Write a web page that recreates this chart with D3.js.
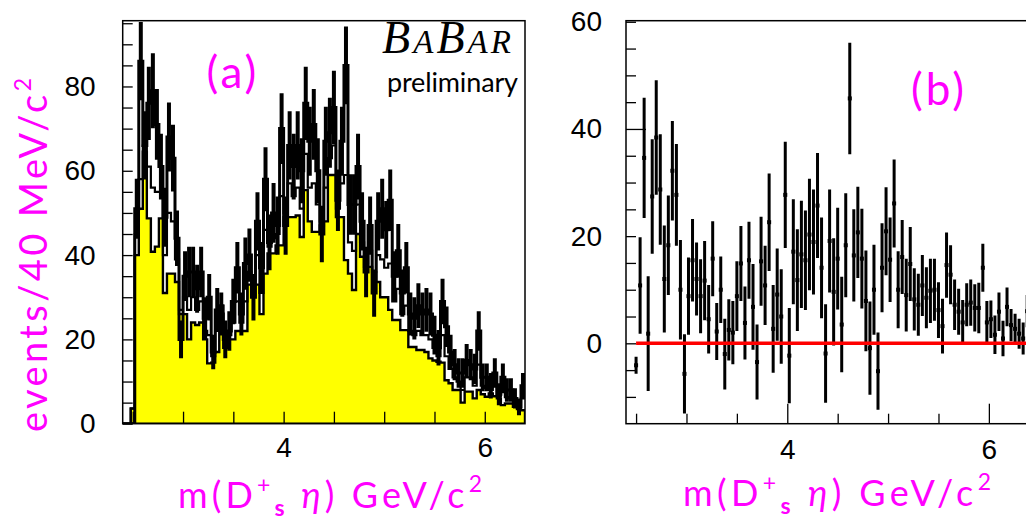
<!DOCTYPE html>
<html>
<head>
<meta charset="utf-8">
<script src="https://cdn.jsdelivr.net/npm/d3@7"></script>
<style>
  body { margin: 0; background: #fff; }
  svg { display: block; }
</style>
</head>
<body>
<svg id="chart" width="1026" height="523"></svg>
<script>
// binning: 100 bins of 40 MeV from 2.4 to 6.4 GeV
const binLo = 2.4, binW = 0.04, nBins = 100;

// (a) yellow background histogram
const bkgA = [0,0,3.6,40,51,64.5,48.7,40.8,42,48.7,
  31,35.6,35.6,33.6,26,26,20,24,23.4,24,
  20,14.3,14.5,17,28,18,20,20,22,22,
  22,33,33,33,26,35.6,40.4,40.4,42.3,42.3,
  49,49,49,49.4,44.3,55.4,48,45.5,45.5,47,
  48,59,59,49,49,38.8,35.6,31.7,45,39.6,
  37.2,37.2,36,33.6,30,30,27,24.6,24.6,22.2,
  22.2,18.2,18.2,17.5,17.5,17,15.5,15,14.7,14.5,
  10.3,9.6,8,8,5,7.6,7.6,6,8,7,
  6.4,7.2,6.5,6,4.4,4.8,4.8,4,3.5,3.2];

// (a) open (outline only) histogram
const refA = [0,0,3.6,45,58,66,61,56,55,55,
  40,50,48,39,27,30,27,30,27,29,
  22,21,16,22,28,20,21,24,29,24,
  29,36,34,40,31,46,42,44,45,54,
  50,57,54,56,51,64,56,57,52,48,
  56,63,66,51,57,59,43,41,52,43,
  38,41,36,40,39,37,38,29,32,26,
  28,22,21,22,21,21,20,18,16,21,
  16,13,11,10,8,11,11,9,14,9,
  8.5,8,9.5,6.5,7.5,6.3,6,5,4,6];

// (a) data with errors
const dataA = [0,0,0,51,86,66,76,79,71,61,
  49,68,63,44,20,35,36,36,32,36,
  25,30,17,27,26,20,22,29,37,26,
  38,40,30,48,37,58,43,50,47,70,
  47,66,61,66,60,76,67,71,60,45,
  67,69,75,53,67,85,52,52,61,48,
  36,47,31,48,51,46,53,35,41,31,
  37,26,25,28,26,27,26,21,18,29,
  23,17,14,12,12,15,14,13,22,11,
  11,9,12,7,11,8,8,6,4,9];
const errA = [0,0,0,7.1,9.3,8.1,8.7,8.9,8.4,7.8,
  7,8.2,7.9,6.6,4.5,5.9,6,6,5.7,6,
  5,5.5,4.1,5.2,5.1,4.5,4.7,5.4,6.1,5.1,
  6.2,6.3,5.5,6.9,6.1,7.6,6.6,7.1,6.9,8.4,
  6.9,8.1,7.8,8.1,7.7,8.7,8.2,8.4,7.7,6.7,
  8.2,8.3,8.7,7.3,8.2,9.2,7.2,7.2,7.8,6.9,
  6,6.9,5.6,6.9,7.1,6.8,7.3,5.9,6.4,5.6,
  6.1,5.1,5,5.3,5.1,5.2,5.1,4.6,4.2,5.4,
  4.8,4.1,3.7,3.5,3.5,3.9,3.7,3.6,4.7,3.3,
  3.3,3,3.5,2.6,3.3,2.8,2.8,2.4,2,3];

// (b) subtracted distribution, bins 2..99
const firstBinB = 2;
const subB = [-4.1,10.8,34.6,1.8,27.4,38.4,28.7,12,18.3,32.2,
  27.7,10,-5.7,8.8,15.5,12,8.8,11.7,4.5,15.8,
  2.2,10,-2,2.5,2,8.8,14.9,3.8,15.5,6.8,
  -3.5,15.3,10.8,22.6,2.7,9.1,5,27.7,-2.3,17.1,
  11.8,16.6,15.5,20.3,18.9,25.7,14.1,-1.9,19.1,9.6,
  15.8,3.5,18.3,45.7,16.4,20.7,15.8,7.9,-0.9,10,
  -5.2,14.1,20.9,15.6,26.1,10,16.1,9,14.8,8.2,
  7.2,10.8,8.5,9.8,10,6.2,3.2,14.6,12.8,7.2,
  5.9,3.9,7.2,7.6,6.6,6.6,14.1,3.9,4.5,1.6,
  5.9,0.9,6.8,3.4,2.7,1.8,0.9,6];
const errB = [1.6,9,11.2,10.7,10.7,10.7,10.3,10,9.3,9.3,
  9.5,9.3,7.4,7.2,7.7,6.8,6.9,7.4,6.4,7,
  5.3,6.2,6.6,5.7,5.9,6.5,7,6.8,7.2,8,
  7,8.3,7.4,9.1,8.2,8.6,8.8,9.9,8.9,9.8,
  9.5,10,9.3,10.4,9.8,9.8,9.4,9.2,9.6,10,
  9.5,8.9,9.7,10.4,8.6,8.5,9.3,9.4,8.7,8.4,
  7.2,8.3,8.2,7.9,8.2,7.2,6.9,6.8,6.9,5.8,
  5.8,5.7,5.7,6,5.8,5.2,5.1,6.1,5.5,4.7,
  4.3,4.2,4,4.3,4.4,4.7,4.5,4,3.5,3.6,
  3.6,3.3,3.6,3,2.8,2.8,3,3];

const xTicks = [2.5, 3, 3.5, 4, 4.5, 5, 5.5, 6];
const xLabels = [4, 6];
const yLabelsA = [0, 20, 40, 60, 80];
const yLabelsB = [0, 20, 40, 60];

const magenta = "#ff00ff";
const tickFont = "'Liberation Sans', Arial, sans-serif";
const labFont = "'Lato', 'Liberation Sans', sans-serif";

const svg = d3.select("#chart");
const edges = d3.range(nBins + 1).map(i => binLo + i * binW);

function stepPts(vals) {
    let p = vals.map((v, i) => [edges[i], v]);
    p.push([edges[nBins], vals[nBins - 1]]);
    return p;
}

function xTitle(g, x0, y, len) {
    let t = g.append("text")
        .attr("x", x0).attr("y", y)
        .attr("font-family", labFont)
        .attr("font-size", 36)
        .attr("textLength", len)
        .attr("lengthAdjust", "spacing")
        .attr("fill", magenta);
    t.append("tspan").text("m(D");
    t.append("tspan").attr("dy", -15).attr("font-size", 23).text("+");
    t.append("tspan").attr("dy", 23).attr("font-size", 23).attr("font-weight", 700).text("s");
    t.append("tspan").attr("dy", -8).attr("font-style", "italic").text(" η");
    t.append("tspan").text(") GeV/c");
    t.append("tspan").attr("dy", -16).attr("font-size", 23).text("2");
}

// ---------------- panel (a) ----------------
const A = {left: 122.7, right: 525, top: 20.7, bottom: 423.7};
const xa = d3.scaleLinear().domain([2.4, 6.4]).range([A.left, A.right]);
const ya = d3.scaleLinear().domain([0, 95.6]).range([A.bottom, A.top]);

svg.append("clipPath").attr("id", "clipA")
    .append("rect").attr("x", A.left).attr("y", A.top)
    .attr("width", A.right - A.left).attr("height", A.bottom - A.top);

const ga = svg.append("g").attr("clip-path", "url(#clipA)");

ga.append("path")
    .datum(stepPts(bkgA))
    .attr("fill", "#ffff00")
    .attr("stroke", "#000")
    .attr("stroke-width", 2.4)
    .attr("d", d3.area().curve(d3.curveStepAfter)
        .x(d => xa(d[0])).y0(ya(0)).y1(d => ya(d[1])));

ga.append("path")
    .datum(stepPts(refA))
    .attr("fill", "none")
    .attr("stroke", "#000")
    .attr("stroke-width", 2.2)
    .attr("d", d3.line().curve(d3.curveStepAfter)
        .x(d => xa(d[0])).y(d => ya(d[1])));

ga.append("path")
    .datum(stepPts(dataA))
    .attr("fill", "none")
    .attr("stroke", "#000")
    .attr("stroke-width", 3)
    .attr("d", d3.line().curve(d3.curveStepAfter)
        .x(d => xa(d[0])).y(d => ya(d[1])));

ga.selectAll(".errA")
    .data(dataA.map((v, i) => ({v: v, e: errA[i], c: edges[i] + binW / 2})).filter(d => d.e > 0))
    .enter().append("line")
    .attr("x1", d => xa(d.c)).attr("x2", d => xa(d.c))
    .attr("y1", d => ya(d.v - d.e)).attr("y2", d => ya(d.v + d.e))
    .attr("stroke", "#000")
    .attr("stroke-width", 4);

svg.append("rect")
    .attr("x", A.left).attr("y", A.top)
    .attr("width", A.right - A.left).attr("height", A.bottom - A.top)
    .attr("fill", "none").attr("stroke", "#000").attr("stroke-width", 1.5);

// axes (a)
svg.append("g").attr("transform", "translate(" + A.left + ",0)")
    .call(d3.axisLeft(ya).tickValues(d3.range(0, 96, 5)).tickSize(-10).tickPadding(27)
        .tickFormat(d => yLabelsA.includes(d) ? d : ""));
svg.append("g").attr("transform", "translate(0," + A.bottom + ")")
    .call(d3.axisBottom(xa).tickValues(xTicks).tickSize(-12).tickPadding(13)
        .tickFormat(d => xLabels.includes(d) ? d : ""));

// ---------------- panel (b) ----------------
const B = {left: 626, right: 1029.2, top: 20.7, bottom: 423.7};
const xb = d3.scaleLinear().domain([2.4, 6.4]).range([B.left, B.right]);
const yb = d3.scaleLinear().domain([-15, 60.2]).range([B.bottom, B.top]);

svg.append("clipPath").attr("id", "clipB")
    .append("rect").attr("x", B.left).attr("y", B.top)
    .attr("width", B.right - B.left).attr("height", B.bottom - B.top);

const gb = svg.append("g").attr("clip-path", "url(#clipB)");
const ptsB = subB.map((v, i) => ({v: v, e: errB[i], c: edges[i + firstBinB] + binW / 2}));

gb.selectAll(".errB").data(ptsB).enter().append("line")
    .attr("x1", d => xb(d.c)).attr("x2", d => xb(d.c))
    .attr("y1", d => yb(d.v - d.e)).attr("y2", d => yb(d.v + d.e))
    .attr("stroke", "#000").attr("stroke-width", 3);

gb.selectAll(".ptB").data(ptsB).enter().append("rect")
    .attr("x", d => xb(d.c) - 2).attr("y", d => yb(d.v) - 2)
    .attr("width", 4).attr("height", 4).attr("fill", "#000");

gb.append("line")
    .attr("x1", xb(2.5)).attr("x2", xb(6.4))
    .attr("y1", yb(0)).attr("y2", yb(0))
    .attr("stroke", "#ff0000").attr("stroke-width", 3.5);

svg.append("rect")
    .attr("x", B.left).attr("y", B.top)
    .attr("width", B.right - B.left).attr("height", B.bottom - B.top)
    .attr("fill", "none").attr("stroke", "#000").attr("stroke-width", 1.5);

const axYB = svg.append("g").attr("transform", "translate(" + B.left + ",0)")
    .call(d3.axisLeft(yb).tickValues(d3.range(-10, 61, 5)).tickSize(-10).tickPadding(24)
        .tickFormat(d => yLabelsB.includes(d) ? d : ""));
axYB.selectAll(".tick line").filter(d => d === 40).attr("x2", 20);

const axXB = svg.append("g").attr("transform", "translate(0," + B.bottom + ")")
    .call(d3.axisBottom(xb).tickValues(xTicks).tickSize(-10).tickPadding(15)
        .tickFormat(d => xLabels.includes(d) ? d : ""));
axXB.selectAll(".tick line").filter(d => xLabels.includes(d)).attr("y2", -20);

// common axis styling
svg.selectAll(".domain").remove();
svg.selectAll(".tick line").attr("stroke", "#000").attr("stroke-width", 1.3);
svg.selectAll(".tick text")
    .attr("font-family", tickFont)
    .attr("font-size", 28)
    .attr("fill", "#000");

// ---------------- titles and labels ----------------
xTitle(svg, 178, 508, 304);
xTitle(svg, 683, 506, 308);

const yt = svg.append("text")
    .attr("transform", "translate(47,432) rotate(-90)")
    .attr("font-family", labFont)
    .attr("font-size", 38)
    .attr("textLength", 354)
    .attr("lengthAdjust", "spacing")
    .attr("fill", magenta);
yt.append("tspan").text("events/40 MeV/c");
yt.append("tspan").attr("dy", -16).attr("font-size", 23).text("2");

svg.append("text").attr("x", 233).attr("y", 88)
    .attr("text-anchor", "middle").attr("font-family", labFont)
    .attr("font-size", 44).attr("letter-spacing", 3).attr("fill", magenta).text("(a)");
svg.append("text").attr("x", 939).attr("y", 105)
    .attr("text-anchor", "middle").attr("font-family", labFont)
    .attr("font-size", 44).attr("letter-spacing", 3).attr("fill", magenta).text("(b)");

// BaBar logo
const logo = svg.append("text").attr("x", 382).attr("y", 53)
    .attr("font-family", "'Liberation Serif', 'Times New Roman', serif")
    .attr("font-style", "italic").attr("fill", "#000")
    .attr("textLength", 129).attr("lengthAdjust", "spacing");
logo.append("tspan").attr("font-size", 46).text("B");
logo.append("tspan").attr("font-size", 33).text("A");
logo.append("tspan").attr("font-size", 46).text("B");
logo.append("tspan").attr("font-size", 33).text("AR");

svg.append("text").attr("x", 387).attr("y", 92)
    .attr("font-family", labFont)
    .attr("font-size", 27)
    .attr("textLength", 131)
    .attr("lengthAdjust", "spacing")
    .attr("fill", "#000")
    .text("preliminary");
</script>
</body>
</html>
